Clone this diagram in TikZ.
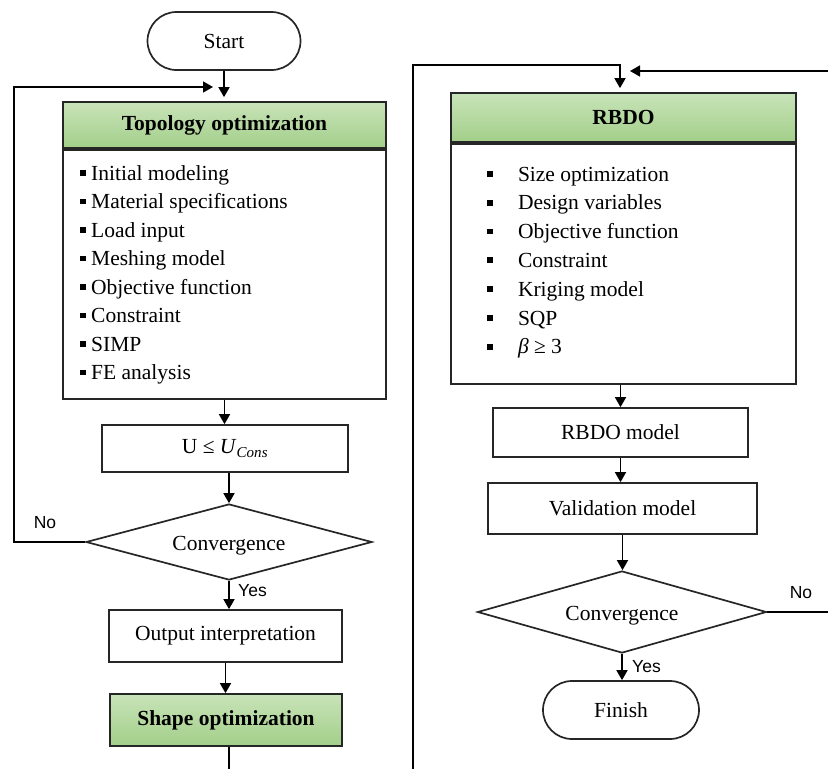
\documentclass[tikz,border=0pt]{standalone}
\usepackage{fontspec}
\setmainfont{Liberation Serif}
\newfontfamily\sansf{Liberation Sans}
\usetikzlibrary{arrows.meta,shapes.geometric}
\definecolor{gtop}{HTML}{C8E3B9}
\definecolor{gbot}{HTML}{A3CF89}
\definecolor{edgec}{HTML}{262626}
\newcommand{\bul}{\rule[4.2pt]{5.8pt}{5.8pt}}
\begin{document}
\begin{tikzpicture}[x=1pt,y=-1pt,
 box/.style={draw=edgec,line width=1.7pt,rectangle,inner sep=0pt,font=\fontsize{21.5}{25}\selectfont},
 hdr/.style={box,top color=gtop,bottom color=gbot,font=\fontsize{21.5}{25}\selectfont\bfseries},
 term/.style={box,rounded corners=29pt},
 dia/.style={draw=edgec,line width=1.7pt,diamond,shape aspect=3.7,inner sep=0pt,text height=16pt,text depth=0pt,font=\fontsize{21.5}{25}\selectfont},
 item/.style={anchor=base west,inner sep=0pt,font=\fontsize{21.5}{25}\selectfont},
 lab/.style={inner sep=0pt,font=\sansf\fontsize{17.5}{20}\selectfont},
 arr/.style={line width=1.6pt,-{Triangle[length=10pt,width=11pt]}},
 ln/.style={line width=1.6pt}
]
\useasboundingbox (0,0) rectangle (828,769);
% left column
\node[term,minimum width=153pt,minimum height=58pt] (start) at (224,41) {Start};
\node[hdr,minimum width=323pt,minimum height=46pt] (topo) at (224.5,125) {Topology optimization};
\node[box,minimum width=323pt,minimum height=249pt,anchor=north] (topob) at (topo.south) {};
\foreach \t [count=\i] in {Initial modeling,Material specifications,Load input,Meshing model,Objective function,Constraint,SIMP,FE analysis}
  \node[item] (ti\i) at (80,{180+28.5*(\i-1)}) {\bul\hspace{5.2pt}\t};
\node[box,minimum width=246pt,minimum height=47pt] (ucon) at (225,448.5) {U ≤ \textit{U}\textsubscript{\textit{Cons}}};
\node[dia,minimum width=286pt,minimum height=76pt] (dia1) at (229,542) {Convergence};
\node[box,minimum width=233pt,minimum height=52pt] (out) at (225.5,636) {Output interpretation};
\node[hdr,minimum width=232pt,minimum height=52pt] (shapeopt) at (226,720) {Shape optimization};
% right column
\node[hdr,minimum width=345pt,minimum height=49pt] (rbdo) at (623.5,117.5) {RBDO};
\node[box,minimum width=345pt,minimum height=240pt,anchor=north] (rbdob) at (rbdo.south) {};
\foreach \t [count=\i] in {Size optimization,Design variables,Objective function,Constraint,Kriging model,SQP,\textit{β} ≥ 3}
  \node[item] (ri\i) at (487,{181+28.8*(\i-1)}) {\bul\hspace{25pt}\t};
\node[box,minimum width=255pt,minimum height=49pt] (rm) at (620.5,432.5) {RBDO model};
\node[box,minimum width=269pt,minimum height=51pt] (val) at (622.5,508.5) {Validation model};
\node[dia,minimum width=289pt,minimum height=82pt] (dia2) at (622,612) {Convergence};
\node[term,minimum width=156pt,minimum height=58pt] (fin) at (621,710) {Finish};
% labels
\node[lab] (no1) at (45,523) {No};
\node[lab] (yes1) at (252.5,591) {Yes};
\node[lab] (no2) at (801,593) {No};
\node[lab] (yes2) at (646.5,667) {Yes};
% coordinates
\coordinate (lc) at (14,87);
\coordinate (lt) at (213,87);
\coordinate (bl) at (229,769);
\coordinate (rb) at (413,769);
\coordinate (rt) at (620,65);
\coordinate (re) at (828,71);
\coordinate (rtip) at (630,71);
% connectors left
\draw[arr,shorten >=4pt] (start.south) -- (start.south |- topo.north);
\draw[arr] (topob.south) -- (topob.south |- ucon.north);
\draw[arr] (dia1.north |- ucon.south) -- (dia1.north);
\draw[arr] (dia1.south) -- (dia1.south |- out.north);
\draw[arr] (out.south) -- (out.south |- shapeopt.north);
\draw[ln] (bl |- shapeopt.south) -- (bl);
\draw[arr] (dia1.west) -| (lc) -- (lt);
% connectors right
\draw[arr,shorten >=4pt] (rb) |- (rt) -- (rt |- rbdo.north);
\draw[arr] (re) -- (rtip);
\draw[arr] (rm.north |- rbdob.south) -- (rm.north);
\draw[arr] (rm.south) -- (rm.south |- val.north);
\draw[arr] (val.south) -- (val.south |- dia2.north);
\draw[arr] (dia2.south) -- (dia2.south |- fin.north);
\draw[ln] (dia2.east) -- (dia2.east -| re);
\end{tikzpicture}
\end{document}
